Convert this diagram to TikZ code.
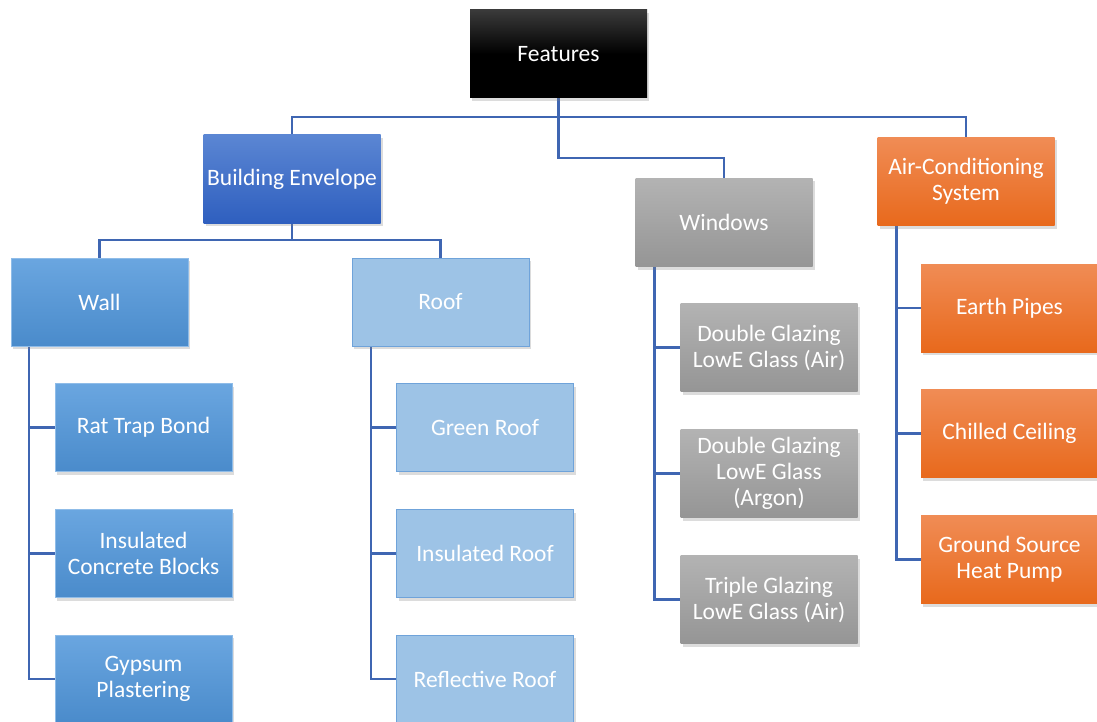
\documentclass[tikz,border=0pt]{standalone}
\usepackage{fontspec}
\setmainfont{Carlito}
\usetikzlibrary{shadows,backgrounds}
\definecolor{linec}{HTML}{3F66B2}
\definecolor{featT}{HTML}{3A3A3A}
\definecolor{beT}{HTML}{5B86D3}
\definecolor{beB}{HTML}{2F5FBF}
\definecolor{wallT}{HTML}{6AA6E0}
\definecolor{wallB}{HTML}{4A8BCB}
\definecolor{wallD}{HTML}{8FBCE8}
\definecolor{roofF}{HTML}{9DC3E6}
\definecolor{roofD}{HTML}{6FA3DA}
\definecolor{grayT}{HTML}{B3B3B3}
\definecolor{grayB}{HTML}{959595}
\definecolor{orT}{HTML}{F08C55}
\definecolor{orB}{HTML}{E8691C}
\begin{document}
\begin{tikzpicture}[x=1pt,y=-1pt,
  box/.style={minimum width=177pt, minimum height=88pt, inner sep=0pt, align=center,
    text=white, font=\fontsize{23.5}{26}\selectfont,
    drop shadow={shadow xshift=2pt, shadow yshift=-3pt, opacity=0.28}},
  featbox/.style={box, top color=featT, bottom color=black, middle color=black},
  bebox/.style={box, top color=beT, bottom color=beB},
  wallbox/.style={box, top color=wallT, bottom color=wallB, draw=wallD, line width=0.6pt},
  roofbox/.style={box, fill=roofF, draw=roofD, line width=0.6pt},
  graybox/.style={box, top color=grayT, bottom color=grayB},
  orbox/.style={box, top color=orT, bottom color=orB},
  conn/.style={draw=linec, line width=2.4pt}]
\useasboundingbox (0,0) rectangle (1097,722);

\node[featbox] (feat) at (558.5,54) {Features};
\node[bebox] (be) at (292,179) {Building Envelope};
\node[graybox] (win) at (724,222.5) {Windows};
\node[orbox] (ac) at (966,181.5) {Air-Conditioning\\System};

\node[wallbox] (wall) at (99.5,302) {Wall};
\node[roofbox] (roof) at (440.5,302) {Roof};

\node[wallbox] (rtb) at (143.5,427.5) {Rat Trap Bond};
\node[wallbox] (icb) at (143.5,553.5) {Insulated\\Concrete Blocks};
\node[wallbox] (gyp) at (143.5,679) {Gypsum\\Plastering};

\node[roofbox] (green) at (485,427.5) {Green Roof};
\node[roofbox] (insr) at (485,553.5) {Insulated Roof};
\node[roofbox] (refl) at (485,679) {Reflective Roof};

\node[graybox] (dga) at (769,347.5) {Double Glazing\\LowE Glass (Air)};
\node[graybox] (dgar) at (769,473.5) {Double Glazing\\LowE Glass\\(Argon)};
\node[graybox] (tga) at (769,599.5) {Triple Glazing\\LowE Glass (Air)};

\node[orbox] (ep) at (1009.5,308) {Earth Pipes};
\node[orbox] (cc) at (1009.5,433.5) {Chilled Ceiling};
\node[orbox] (gs) at (1009.5,559.5) {Ground Source\\Heat Pump};

\begin{pgfonlayer}{background}
  \coordinate (j1) at (558.5,117);
  \coordinate (j2) at (558.5,158);
  \coordinate (j3) at (292,240);
  \draw[conn] (feat.south) -- (j1) -| (be.north);
  \draw[conn] (j1) -| (ac.north);
  \draw[conn] (j1) -- (j2) -| (win.north);
  \draw[conn] (be.south) -- (j3) -| (wall.north);
  \draw[conn] (j3) -| (roof.north);
  \foreach \c in {rtb,icb,gyp}
    \draw[conn] ([xshift=18pt]wall.south west) |- (\c.west);
  \foreach \c in {green,insr,refl}
    \draw[conn] ([xshift=19pt]roof.south west) |- (\c.west);
  \foreach \c in {dga,dgar,tga}
    \draw[conn] ([xshift=19pt]win.south west) |- (\c.west);
  \foreach \c in {ep,cc,gs}
    \draw[conn] ([xshift=19pt]ac.south west) |- (\c.west);
\end{pgfonlayer}
\end{tikzpicture}
\end{document}
